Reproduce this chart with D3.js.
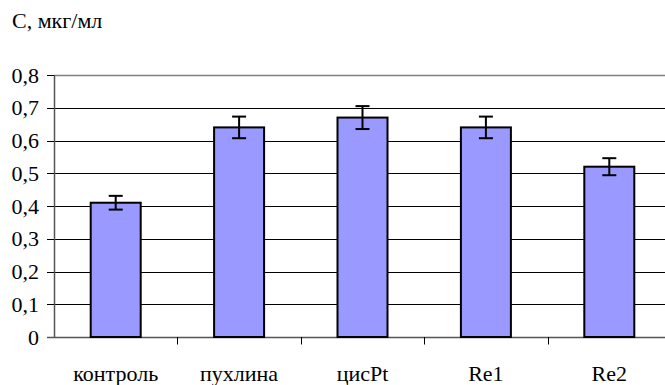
<!DOCTYPE html>
<html><head><meta charset="utf-8">
<script src="https://cdn.jsdelivr.net/npm/d3@7"></script>
<style>body{margin:0;background:#fff}</style>
</head><body>
<script>
const categories = ["контроль","пухлина","цисPt","Re1","Re2"];
const values = [0.41,0.64,0.67,0.64,0.52];
const errors = [0.021,0.033,0.035,0.033,0.026];
const yTicks = [0,0.1,0.2,0.3,0.4,0.5,0.6,0.7,0.8];
const yTickLabels = ["0","0,1","0,2","0,3","0,4","0,5","0,6","0,7","0,8"];
const yTitle = "С, мкг/мл";

const W=665,H=385;
const mLeft=54,mRight=671,mTop=75,mBottom=337;
const FS=22;
const svg=d3.select("body").append("svg").attr("width",W).attr("height",H);

function serif(sel){
  return sel.attr("font-family","Liberation Serif").style("font","22px 'Liberation Serif', serif").attr("fill","#000");
}

const x=d3.scaleBand().domain(categories).range([mLeft,mRight]).paddingInner(0).paddingOuter(0);
const y=d3.scaleLinear().domain([0,0.8]).range([mBottom,mTop]);

svg.append("g").selectAll("line").data(yTicks.filter(t=>t>0 && t<0.8)).join("line")
 .attr("x1",mLeft).attr("x2",mRight).attr("y1",d=>Math.round(y(d))+0.5).attr("y2",d=>Math.round(y(d))+0.5)
 .attr("stroke","#000").attr("stroke-width",1);
svg.append("line").attr("x1",mLeft).attr("x2",mRight).attr("y1",Math.round(y(0.8))+0.5).attr("y2",Math.round(y(0.8))+0.5)
 .attr("stroke","#808080").attr("stroke-width",1.5);

svg.append("line").attr("x1",mLeft+0.5).attr("x2",mLeft+0.5).attr("y1",y(0.8)).attr("y2",y(0))
 .attr("stroke","#555").attr("stroke-width",1.5);
svg.append("g").selectAll("line").data(yTicks).join("line")
 .attr("x1",mLeft-7).attr("x2",mLeft).attr("y1",d=>Math.round(y(d))+0.5).attr("y2",d=>Math.round(y(d))+0.5)
 .attr("stroke","#000");
serif(svg.append("g").selectAll("text").data(yTicks).join("text")
 .attr("x",mLeft-15).attr("y",d=>y(d)+7.5).attr("text-anchor","end"))
 .text((d,i)=>yTickLabels[i]);

const xb=d3.scaleLinear().domain([0,categories.length]).range([mLeft,mRight]);
svg.append("line").attr("x1",mLeft-7).attr("x2",mRight).attr("y1",Math.round(mBottom)+0.5).attr("y2",Math.round(mBottom)+0.5)
 .attr("stroke","#555").attr("stroke-width",1.5);
svg.append("g").selectAll("line").data(d3.range(1,categories.length)).join("line")
 .attr("x1",d=>Math.round(xb(d))+0.5).attr("x2",d=>Math.round(xb(d))+0.5)
 .attr("y1",mBottom).attr("y2",mBottom+7.5).attr("stroke","#000");
serif(svg.append("g").selectAll("text").data(categories).join("text")
 .attr("x",d=>x(d)+x.bandwidth()/2).attr("y",381).attr("text-anchor","middle"))
 .text(d=>d);

const bw=50;
svg.append("g").selectAll("rect").data(categories).join("rect")
 .attr("x",d=>x(d)+x.bandwidth()/2-bw/2).attr("width",bw)
 .attr("y",(d,i)=>y(values[i])).attr("height",(d,i)=>y(0)-y(values[i]))
 .attr("fill","#9999FF").attr("stroke","#000").attr("stroke-width",2);

const eg=svg.append("g").attr("stroke","#000").attr("stroke-width",2);
categories.forEach((c,i)=>{
  const cx=x(c)+x.bandwidth()/2;
  const y1=y(values[i]+errors[i]), y2=y(values[i]-errors[i]);
  eg.append("line").attr("x1",cx).attr("x2",cx).attr("y1",y1).attr("y2",y2);
  eg.append("line").attr("x1",cx-7).attr("x2",cx+7).attr("y1",y1).attr("y2",y1);
  eg.append("line").attr("x1",cx-7).attr("x2",cx+7).attr("y1",y2).attr("y2",y2);
});

serif(svg.append("text").attr("x",12).attr("y",28)).text(yTitle);
</script>
</body></html>
